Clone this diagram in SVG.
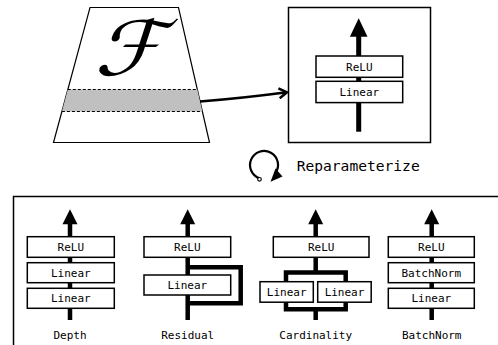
<svg xmlns="http://www.w3.org/2000/svg" width="498" height="345" viewBox="0 0 498 345">
<defs>
<style>
.box{fill:#fff;stroke:#000;stroke-width:1.5}
.frame{fill:#fff;stroke:#000;stroke-width:1.5}
.t{font-family:"DejaVu Sans Mono","Liberation Mono",monospace;font-size:11px;text-anchor:middle;fill:#000}
.lbl{font-family:"DejaVu Sans Mono","Liberation Mono",monospace;font-size:11px;text-anchor:middle;fill:#000}
.flow{fill:none;stroke:#000;stroke-width:4.5}
.head{fill:#000}
</style>
<marker id="open" markerWidth="12" markerHeight="12" refX="9" refY="6" orient="auto" markerUnits="userSpaceOnUse">
<path d="M1,1 L9,6 L1,11" fill="none" stroke="#000" stroke-width="2.5" stroke-linejoin="miter"/>
</marker>
</defs>
<rect width="498" height="345" fill="#fff"/>

<g id="family">
<polygon points="90,7.5 178.5,7.5 209.5,142.5 53.5,142.5" fill="#fff" stroke="#000" stroke-width="1.2"/>
<polygon points="67.8,89.5 197.3,89.5 202.4,111.5 61.9,111.5" fill="#c0c0c0"/>
<line x1="67.8" y1="89.5" x2="197.3" y2="89.5" stroke="#000" stroke-width="1.2" stroke-dasharray="3,2"/>
<line x1="61.9" y1="111.5" x2="202.4" y2="111.5" stroke="#000" stroke-width="1.2" stroke-dasharray="3,2"/>
<text transform="translate(128,75) skewX(-18) scale(1.15,1)" x="0" y="0" font-family="DejaVu Sans, sans-serif" font-size="76" text-anchor="middle">ℱ</text>
</g>

<g id="single">
<rect class="frame" x="288.5" y="7.5" width="142" height="135"/>
<line x1="358.7" y1="131.7" x2="358.7" y2="35" stroke="#000" stroke-width="5"/>
<polygon class="head" points="358.7,18.3 367.5,36.7 349.9,36.7"/>
<rect class="box" x="316" y="56" width="86.7" height="21.3"/>
<text class="t" x="359.3" y="70.7">ReLU</text>
<rect class="box" x="316" y="81.3" width="86.7" height="21.3"/>
<text class="t" x="359.3" y="96">Linear</text>
</g>

<g id="connectors">
<path d="M200,101.5 Q240,98.5 287,92.3" fill="none" stroke="#000" stroke-width="2.5" marker-end="url(#open)"/>
</g>

<g id="reparam">
<path d="M259.7,178.3 A14,14 0 1 1 275.5,173" fill="none" stroke="#000" stroke-width="2.2"/>
<circle cx="259.5" cy="179.3" r="1.8" fill="#fff" stroke="#000" stroke-width="1.2"/>
<polygon points="270.5,181.8 282.5,176.5 275.5,168.5" fill="#000"/>
<text x="296.7" y="170.7" font-family="DejaVu Sans Mono, monospace" font-size="14.6">Reparameterize</text>
</g>

<g id="panel">
<rect class="frame" x="13.5" y="196.5" width="500" height="200"/>
</g>

<g id="depth">
<line class="flow" x1="70" y1="320" x2="70" y2="222"/>
<polygon class="head" points="70,209.3 77.5,224.3 62.5,224.3"/>
<rect class="box" x="27.3" y="236.7" width="87" height="20.6"/>
<text class="t" x="70.8" y="251">ReLU</text>
<rect class="box" x="27.3" y="262.7" width="87" height="20"/>
<text class="t" x="70.8" y="276.7">Linear</text>
<rect class="box" x="27.3" y="288.3" width="87" height="20"/>
<text class="t" x="70.8" y="302.3">Linear</text>
<text class="lbl" x="70" y="339.3">Depth</text>
</g>

<g id="residual">
<line class="flow" x1="187.7" y1="320" x2="187.7" y2="222"/>
<polyline class="flow" points="187.7,267.3 240.7,267.3 240.7,303.3 187.7,303.3"/>
<polygon class="head" points="187.7,209.3 195.2,224.3 180.2,224.3"/>
<rect class="box" x="144" y="236.7" width="86.7" height="20.6"/>
<text class="t" x="187.3" y="251">ReLU</text>
<rect class="box" x="144" y="275" width="86.7" height="20"/>
<text class="t" x="187.3" y="289">Linear</text>
<text class="lbl" x="187.7" y="339.3">Residual</text>
</g>

<g id="cardinality">
<line class="flow" x1="315.7" y1="272.5" x2="315.7" y2="222"/>
<line class="flow" x1="315.7" y1="320" x2="315.7" y2="309.3"/>
<polygon class="flow" points="286,272.5 345.7,272.5 345.7,309.3 286,309.3"/>
<polygon class="head" points="315.7,209.3 323.2,224.3 308.2,224.3"/>
<rect class="box" x="273.3" y="236.7" width="95.7" height="20.6"/>
<text class="t" x="321.2" y="251">ReLU</text>
<rect class="box" x="260" y="281.7" width="53.3" height="20.5"/>
<text class="t" x="286.7" y="295.8">Linear</text>
<rect class="box" x="317.7" y="281.7" width="53.5" height="20.5"/>
<text class="t" x="344.5" y="295.8">Linear</text>
<text class="lbl" x="315.7" y="339.3">Cardinality</text>
</g>

<g id="batchnorm">
<line class="flow" x1="431.7" y1="320" x2="431.7" y2="222"/>
<polygon class="head" points="431.7,209.3 439.2,224.3 424.2,224.3"/>
<rect class="box" x="388.3" y="236.7" width="86" height="20.6"/>
<text class="t" x="431.3" y="251">ReLU</text>
<rect class="box" x="388.3" y="262.7" width="86" height="20"/>
<text class="t" x="431.3" y="276.7">BatchNorm</text>
<rect class="box" x="388.3" y="288.3" width="86" height="20"/>
<text class="t" x="431.3" y="302.3">Linear</text>
<text class="lbl" x="431.7" y="339.3">BatchNorm</text>
</g>
</svg>
